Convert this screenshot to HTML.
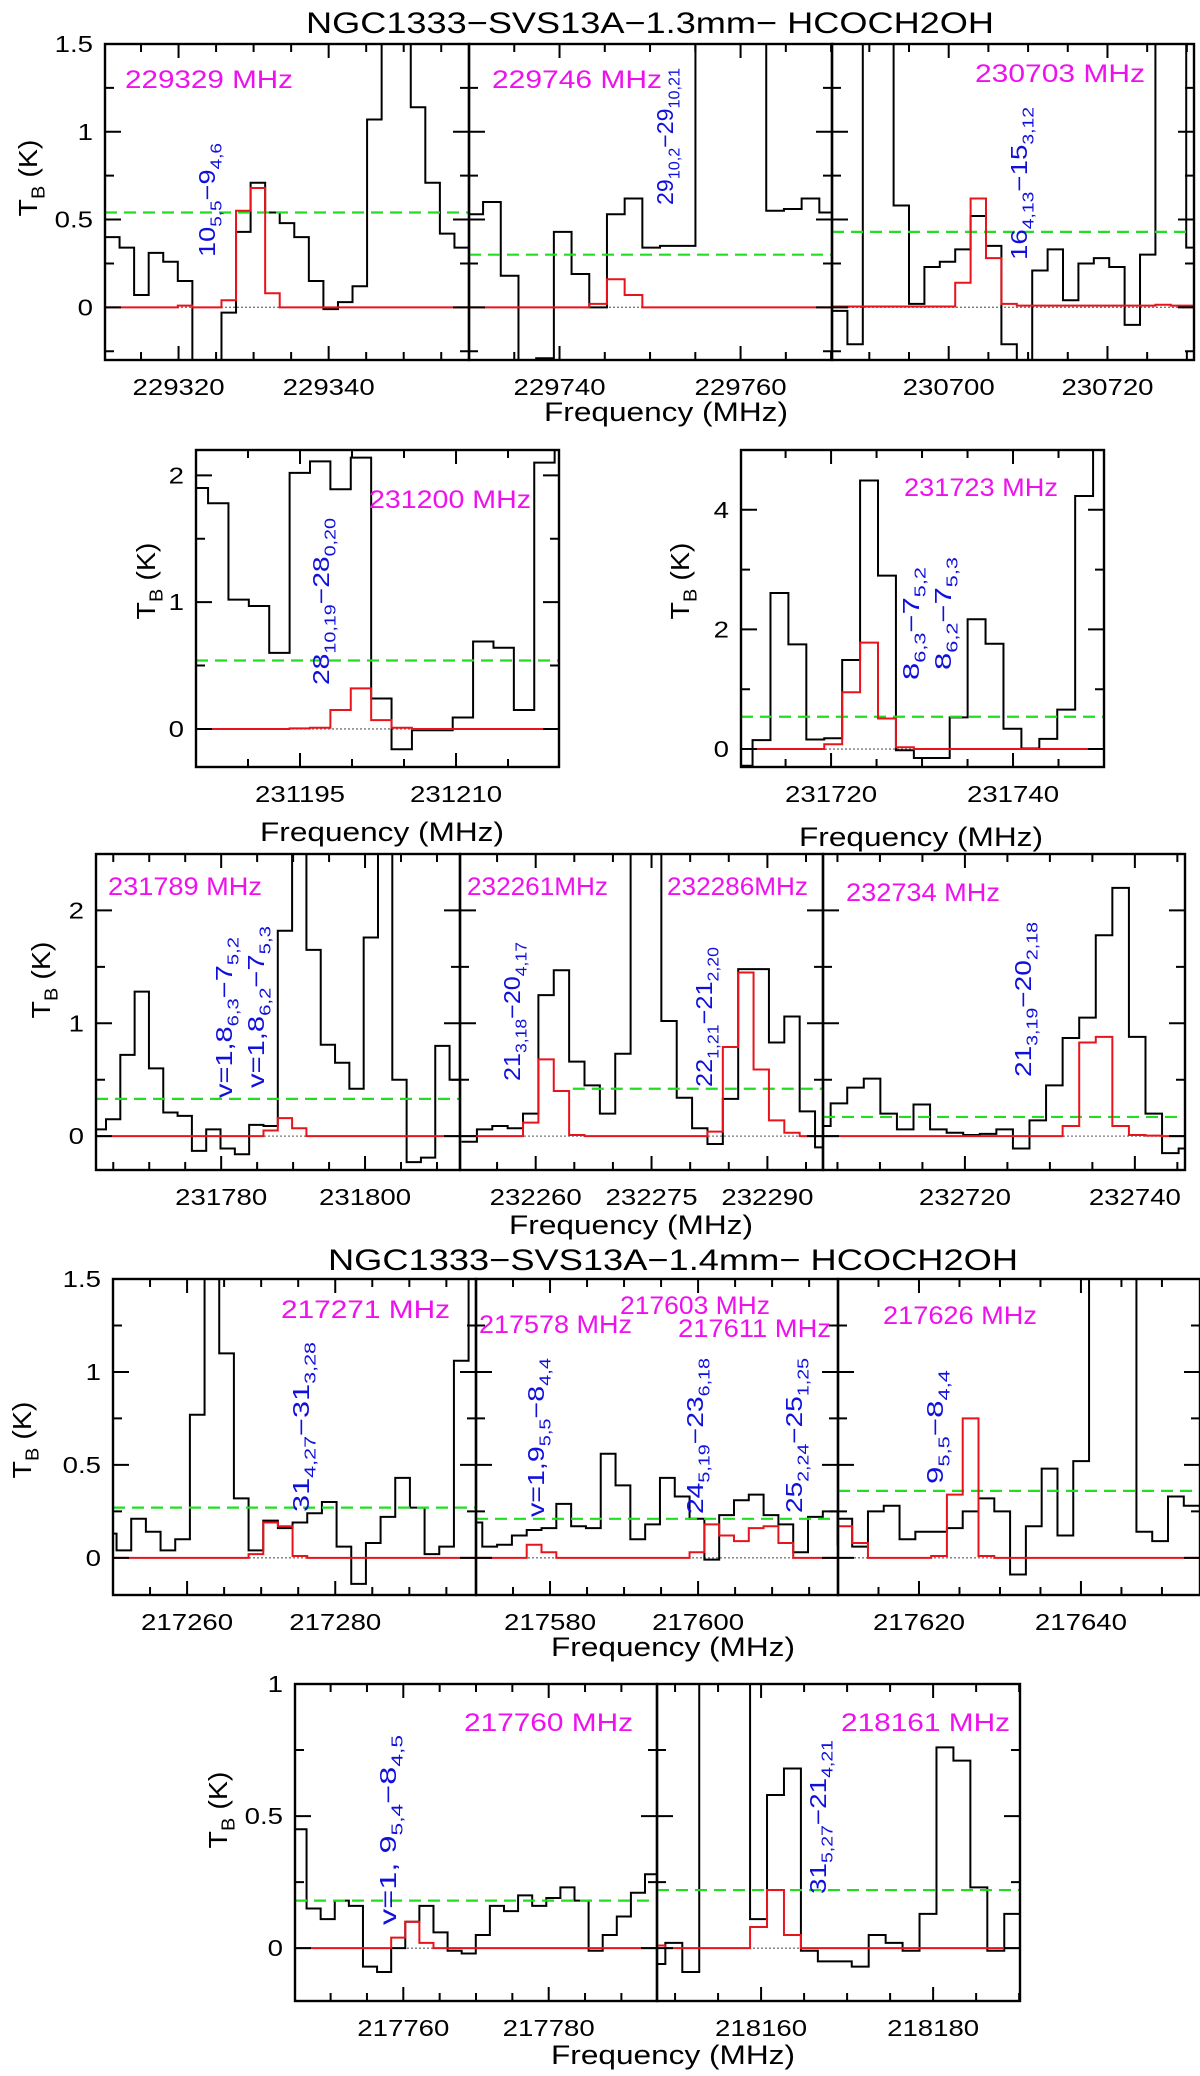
<!DOCTYPE html>
<html><head><meta charset="utf-8">
<style>
html,body{margin:0;padding:0;background:#fff;}
svg{display:block;font-family:"Liberation Sans",sans-serif;}
</style></head>
<body>
<svg id="chart" xmlns="http://www.w3.org/2000/svg" width="1200" height="2076" viewBox="0 0 1200 2076">
<rect x="0" y="0" width="1200" height="2076" fill="#fff"/>
</svg>
<script>
// ---------- data ----------
const r1p1Black=[0.40,0.34,0.07,0.31,0.26,0.15,-0.5,-0.5,-0.03,0.43,0.71,0.54,0.48,0.40,0.15,-0.01,0.03,0.12,1.07,2,2,1.14,0.71,0.42,0.34];
const r1p1Red=[0,0,0,0,0,0.01,0,0,0.04,0.55,0.68,0.08,0,0,0,0,0,0,0,0,0,0,0,0,0];
const r1p2Black=[0.53,0.60,0.18,-0.5,-0.29,0.43,0.19,0.0,0.53,0.62,0.34,0.35,0.35,2,2,2,2,0.55,0.56,0.62,0.54];
const r1p2Red=[0,0,0,0,0,0,0,0.02,0.16,0.07,0,0,0,0,0,0,0,0,0,0,0];
const r1p3Black=[-0.02,-0.21,2,2,0.58,0.02,0.23,0.26,0.33,0.52,0.35,-0.21,-0.5,0.21,0.33,0.04,0.25,0.28,0.23,-0.10,0.30,2,2,0.34];
const r1p3Red=[0.005,0.005,0.005,0.005,0.005,0.005,0.005,0.005,0.14,0.62,0.28,0.02,0.01,0.01,0.01,0.01,0.01,0.01,0.01,0.01,0.01,0.015,0.01,0.01];
const r2aBlack=[1.90,1.78,1.02,0.97,0.60,2.02,2.11,1.89,2.14,0.24,-0.16,-0.01,-0.01,0.09,0.69,0.64,0.15,2.1,2.3];
const r2aRed=[0,0,0,0,0,0.005,0.01,0.15,0.32,0.07,0.01,0,0,0,0,0,0,0,0];
const r2bBlack=[-0.28,0.15,2.61,1.75,0.16,0.18,1.49,4.49,2.90,-0.02,-0.15,-0.15,0.53,2.17,1.76,0.34,0.01,0.17,0.66,4.23,5.5];
const r2bRed=[0,0,0,0,0,0.08,0.95,1.78,0.51,0.03,0,0,0,0,0,0,0,0,0,0,0];
const r3p1Black=[0.06,0.15,0.72,1.28,0.60,0.21,0.18,-0.13,0.06,-0.11,-0.16,0.10,0.09,1.82,3,1.65,0.81,0.65,0.42,1.76,3,0.50,-0.23,-0.19,0.80,0.50];
const r3p1Red=[0,0,0,0,0,0,0,0,0,0,0,0,0.05,0.16,0.07,0,0,0,0,0,0,0,0,0,0,0];
const r3p2Black=[-0.05,0.06,0.09,0.07,0.20,1.25,1.47,0.66,0.45,0.20,0.73,3,3,1.02,0.34,0.07,-0.07,0.33,1.48,1.48,0.83,1.06,0.22,-0.10];
const r3p2Red=[0,0,0,0,0.12,0.68,0.40,0.01,0,0,0,0,0,0,0,0,0.04,0.79,1.45,0.59,0.14,0.03,0,0];
const r3p3Black=[0.09,0.29,0.43,0.51,0.20,0.06,0.28,0.06,0.03,0.01,0.02,0.06,-0.11,0.14,0.45,0.87,1.05,1.78,2.20,0.88,0.20,-0.15,-0.11];
const r3p3Red=[0,0,0,0,0,0,0,0,0,0,0,0,0,0,0,0.09,0.83,0.88,0.09,0.01,0.005,0,0];
const r4p1Black=[0.13,0.04,0.21,0.14,0.04,0.10,0.77,2,1.10,0.32,0.04,0.20,0.16,0.19,0.24,0.30,0.06,-0.14,0.08,0.22,0.43,0.27,0.02,0.06,1.06,2];
const r4p1Red=[0,0,0,0,0,0,0,0,0,0,0.02,0.19,0.17,0.01,0,0,0,0,0,0,0,0,0,0,0,0];
const r4p2Black=[0.19,0.06,0.07,0.12,0.15,0.16,0.29,0.17,0.16,0.56,0.39,0.10,0.18,0.43,0.33,0.21,-0.01,0.23,0.31,0.34,0.23,0.18,0.03,0.22,0.25,0.07];
const r4p2Red=[0,0,0,0,0.07,0.03,0,0,0,0,0,0,0,0,0,0.03,0.18,0.12,0.09,0.16,0.17,0.08,0,0,0,0];
const r4p3Black=[0.21,0.06,0.25,0.28,0.10,0.14,0.14,0.16,0.25,0.32,0.25,-0.09,0.17,0.48,0.12,0.52,2,2,2,0.14,0.09,0.33,0.28];
const r4p3Red=[0.17,0.08,0,0,0,0,0.01,0.34,0.75,0.01,0,0,0,0,0,0,0,0,0,0,0,0,0];
const r5p1Black=[0.45,0.15,0.11,0.18,0.16,-0.07,-0.09,0,0.10,0.16,0.06,-0.01,-0.02,0.05,0.16,0.14,0.20,0.16,0.19,0.23,0.18,-0.01,0.05,0.12,0.21,0.28];
const r5p1Red=[0,0,0,0,0,0,0,0.04,0.10,0.02,0,0,0,0,0,0,0,0,0,0,0,0,0,0,0,0];
const r5p2Black=[-0.06,0.02,-0.09,2,2,2,0.11,0.58,0.68,-0.01,-0.05,-0.05,-0.07,0.05,0.02,-0.01,0.13,0.76,0.71,0.23,-0.01,0.13];
const r5p2Red=[0.01,0,0,0,0,0,0.08,0.22,0.05,0,0,0,0,0,0,0,0,0,0,0,0,0];
// x tick labels (MHz)
const r1p1XTicks=[229320,229340], r1p2XTicks=[229740,229760], r1p3XTicks=[230700,230720];
const r2aXTicks=[231195,231210], r2bXTicks=[231720,231740];
const r3p1XTicks=[231780,231800], r3p2XTicks=[232260,232275,232290], r3p3XTicks=[232720,232740];
const r4p1XTicks=[217260,217280], r4p2XTicks=[217580,217600], r4p3XTicks=[217620,217640];
const r5p1XTicks=[217760,217780], r5p2XTicks=[218160,218180];
// y tick labels
const row1YTicks=[0,0.5,1,1.5], r2aYTicks=[0,1,2], r2bYTicks=[0,2,4], row3YTicks=[0,1,2], row4YTicks=[0,0.5,1,1.5], row5YTicks=[0,0.5,1];
// rms (green) levels
const greenLevels=[0.54,0.30,0.43,0.54,0.54,0.33,0.42,0.17,0.27,0.21,0.36,0.18,0.22];

// ---------- drawing ----------
const NS='http://www.w3.org/2000/svg';
const svg=document.getElementById('chart');
function mk(tag,parent){const e=document.createElementNS(NS,tag);parent.appendChild(e);return e;}

function addText(parent,x,y,str,size,color,anchor,scale,rot,name,len){
  const t=mk('text',parent);
  
  
  t.setAttribute('font-size',size);
  t.setAttribute('fill',color);
  t.setAttribute('text-anchor',anchor);
  t.setAttribute('transform','translate('+x+','+y+')'+(rot?' rotate(-90)':'')+' scale('+scale+',1)');
  const parts=str.split(/(_\{[^}]*\})/);
  let sub=false;
  parts.forEach(p=>{
    if(!p)return;
    const ts=mk('tspan',t);
    if(p.startsWith('_{')){
      ts.textContent=p.slice(2,-1);
      ts.setAttribute('font-size',size*0.7);
      ts.setAttribute('dy',size*0.28);
      sub=true;
    }else{
      ts.textContent=p;
      if(sub){ts.setAttribute('dy',-size*0.28);sub=false;}
    }
  });
  if(len){t.setAttribute('textLength',len);t.setAttribute('lengthAdjust','spacingAndGlyphs');}
  return t;
}

let clipId=0;
function panel(c){
  const g=mk('g',svg);
  
  
  const X=f=>c.x0+(f-c.fmin)/(c.fmax-c.fmin)*(c.x1-c.x0);
  const Y=v=>c.y1-(v-c.vmin)/(c.vmax-c.vmin)*(c.y1-c.y0);
  const cp=mk('clipPath',g); cp.setAttribute('id','cp'+(++clipId));
  const cr=mk('rect',cp); cr.setAttribute('x',c.x0);cr.setAttribute('y',c.y0);cr.setAttribute('width',c.x1-c.x0);cr.setAttribute('height',c.y1-c.y0);
  const d=mk('g',g); d.setAttribute('clip-path','url(#cp'+clipId+')');
  
  
  // zero line
  const z=mk('line',d);
  
  
  z.setAttribute('x1',c.x0);z.setAttribute('x2',c.x1);z.setAttribute('y1',Y(0));z.setAttribute('y2',Y(0));
  z.setAttribute('stroke','#777');z.setAttribute('stroke-width','1.3');z.setAttribute('stroke-dasharray','2,2');
  function step(vals,color,name){
    let s='M'+X(c.f0)+','+Y(vals[0])+' H'+X(c.f0+c.df);
    for(let i=1;i<vals.length;i++){s+=' V'+Y(vals[i])+' H'+X(c.f0+(i+1)*c.df);}
    const p=mk('path',d);
    
    
    p.setAttribute('d',s);p.setAttribute('fill','none');p.setAttribute('stroke',color);p.setAttribute('stroke-width','2');
  }
  step(c.black,'#000','observed-spectrum');
  // green rms
  const gl=mk('line',d);
  
  
  gl.setAttribute('x1',c.gstart?X(c.gstart):c.x0);gl.setAttribute('x2',c.x1);gl.setAttribute('y1',Y(c.green));gl.setAttribute('y2',Y(c.green));
  gl.setAttribute('stroke','#22dd22');gl.setAttribute('stroke-width','2.2');gl.setAttribute('stroke-dasharray','12,7');
  step(c.red,'#e8141c','model-spectrum');
  // frame
  const fr=mk('rect',g);
  
  
  fr.setAttribute('x',c.x0);fr.setAttribute('y',c.y0);fr.setAttribute('width',c.x1-c.x0);fr.setAttribute('height',c.y1-c.y0);
  fr.setAttribute('fill','none');fr.setAttribute('stroke','#000');fr.setAttribute('stroke-width','2.4');
  // ticks
  let tp='';
  const near=(a,b)=>Math.abs(a/b-Math.round(a/b))<1e-6;
  for(let f=Math.ceil(c.fmin/c.xminor)*c.xminor;f<=c.fmax;f+=c.xminor){
    const L=near(f,c.xmajor)?14:8, x=X(f);
    tp+='M'+x+','+c.y0+'v'+L+'M'+x+','+c.y1+'v'+(-L);
  }
  for(let v=Math.ceil(c.vmin/c.yminor-1e-9)*c.yminor;v<=c.vmax+1e-9;v+=c.yminor){
    const L=near(v+1e-12,c.ymajor)?16:9, y=Y(v);
    tp+='M'+c.x0+','+y+'h'+L+'M'+c.x1+','+y+'h'+(-L);
  }
  const tk=mk('path',g);
  
  
  tk.setAttribute('d',tp);tk.setAttribute('stroke','#000');tk.setAttribute('stroke-width','2');tk.setAttribute('fill','none');
  c.xticks.forEach(f=>addText(g,X(f),c.y1+35,String(f),23,'#000','middle',1.2,false,'x-tick-label'));
  if(c.yticks) c.yticks.forEach(v=>addText(g,c.x0-12,Y(v)+8,String(v),23,'#000','end',1.2,false,'y-tick-label'));
  if(c.ylab) addText(g,c.ylab[0],c.ylab[1],'T_{B} (K)',26,'#000','middle',1.1,true,'y-axis-title');
  (c.mag||[]).forEach(m=>addText(g,m[0],m[1],m[2],25,'#ee11ee','start',1,false,'line-frequency-label',m[3]));
  (c.blue||[]).forEach(b=>addText(g,b[0],b[1],b[2],23,'#1010dd','start',1,true,'transition-label',b[3]));
}

// titles and axis titles
addText(svg,650,33,'NGC1333−SVS13A−1.3mm−  HCOCH2OH',30,'#000','middle',1,false,'title-1.3mm',688);
addText(svg,673,1270,'NGC1333−SVS13A−1.4mm−  HCOCH2OH',30,'#000','middle',1,false,'title-1.4mm',690);
[[666,421],[382,841],[921,846],[631,1234],[673,1656],[673,2064]].forEach(p=>addText(svg,p[0],p[1],'Frequency (MHz)',27,'#000','middle',1,false,'x-axis-title',244));

const R1={y0:44,y1:360,vmin:-0.3,vmax:1.5,xminor:5,xmajor:20,yminor:0.25,ymajor:0.5,df:1.94};
panel(Object.assign({},R1,{name:'panel-229329',x0:105,x1:469,fmin:229310.2,fmax:229358.7,f0:229310.2,black:r1p1Black,red:r1p1Red,green:greenLevels[0],xticks:r1p1XTicks,yticks:row1YTicks,ylab:[37,178],
  mag:[[125,88,'229329 MHz',168]],blue:[[215,257,'10_{5,5}−9_{4,6}',114]]}));
panel(Object.assign({},R1,{name:'panel-229746',x0:469,x1:832,fmin:229730,fmax:229770.1,f0:229729.6,df:1.955,black:r1p2Black,red:r1p2Red,green:greenLevels[1],xticks:r1p2XTicks,
  mag:[[492,88,'229746 MHz',170]],blue:[[673,205,'29_{10,2}−29_{10,21}',137]]}));
panel(Object.assign({},R1,{name:'panel-230703',x0:832,x1:1194,fmin:230685.3,fmax:230730.9,f0:230685.3,black:r1p3Black,red:r1p3Red,green:greenLevels[2],xticks:r1p3XTicks,
  mag:[[975,82,'230703 MHz',170]],blue:[[1027,260,'16_{4,13}−15_{3,12}',153]]}));

panel({name:'panel-231200',x0:196,x1:559,y0:450,y1:767,vmin:-0.3,vmax:2.2,xminor:5,xmajor:15,yminor:0.5,ymajor:1,fmin:231185,fmax:231219.9,f0:231184.2,df:1.96,black:r2aBlack,red:r2aRed,green:greenLevels[3],xticks:r2aXTicks,yticks:r2aYTicks,ylab:[155,581],
  mag:[[369,508,'231200 MHz',162]],blue:[[329,685,'28_{10,19}−28_{0,20}',167]]});
panel({name:'panel-231723',x0:741,x1:1104,y0:450,y1:767,vmin:-0.3,vmax:5.0,xminor:5,xmajor:20,yminor:1,ymajor:2,fmin:231710.1,fmax:231750,f0:231709.4,df:1.97,black:r2bBlack,red:r2bRed,green:greenLevels[4],xticks:r2bXTicks,yticks:r2bYTicks,ylab:[689,581],
  mag:[[904,496,'231723 MHz',154]],blue:[[919,680,'8_{6,3}−7_{5,2}',113],[951,670,'8_{6,2}−7_{5,3}',113]]});

const R3={y0:854,y1:1170,vmin:-0.3,vmax:2.5,xminor:5,xmajor:20,yminor:0.5,ymajor:1};
panel(Object.assign({},R3,{name:'panel-231789',x0:96,x1:460,fmin:231762.6,fmax:231813.2,f0:231762.0,df:1.99,black:r3p1Black,red:r3p1Red,green:greenLevels[5],xticks:r3p1XTicks,yticks:row3YTicks,ylab:[50,980],
  mag:[[108,895,'231789 MHz',154]],blue:[[232,1098,'v=1,8_{6,3}−7_{5,2}',161],[264,1088,'v=1,8_{6,2}−7_{5,3}',162]]}));
panel(Object.assign({},R3,{name:'panel-232261-232286',x0:460,x1:823,xmajor:15,fmin:232250.2,fmax:232297.2,f0:232250.4,df:1.99,black:r3p2Black,red:r3p2Red,green:greenLevels[6],gstart:232264.8,xticks:r3p2XTicks,
  mag:[[467,895,'232261MHz',141],[667,895,'232286MHz',141]],blue:[[520,1081,'21_{3,18}−20_{4,17}',139],[712,1087,'22_{1,21}−21_{2,20}',140]]}));
panel(Object.assign({},R3,{name:'panel-232734',x0:823,x1:1185,fmin:232703.3,fmax:232745.9,f0:232702.25,df:1.95,black:r3p3Black,red:r3p3Red,green:greenLevels[7],xticks:r3p3XTicks,
  mag:[[846,901,'232734 MHz',154]],blue:[[1031,1077,'21_{3,19}−20_{2,18}',155]]}));

const R4={y0:1279,y1:1595,vmin:-0.2,vmax:1.5,xminor:5,xmajor:20,yminor:0.25,ymajor:0.5};
panel(Object.assign({},R4,{name:'panel-217271',x0:113,x1:476,fmin:217250,fmax:217299,f0:217248.5,df:1.98,black:r4p1Black,red:r4p1Red,green:greenLevels[8],xticks:r4p1XTicks,yticks:row4YTicks,ylab:[31,1440],
  mag:[[281,1318,'217271 MHz',169]],blue:[[309,1512,'31_{4,27}−31_{3,28}',170]]}));
panel(Object.assign({},R4,{name:'panel-217578-217611',x0:476,x1:838,fmin:217570,fmax:217618.9,f0:217568.85,df:2.0,black:r4p2Black,red:r4p2Red,green:greenLevels[9],xticks:r4p2XTicks,
  mag:[[479,1333,'217578 MHz',153],[620,1314,'217603 MHz',150],[678,1337,'217611 MHz',153]],
  blue:[[544,1517,'v=1,9_{5,5}−8_{4,4}',159],[703,1514,'24_{5,19}−23_{6,18}',156],[802,1513,'25_{2,24}−25_{1,25}',155]]}));
panel(Object.assign({},R4,{name:'panel-217626',x0:838,x1:1200,fmin:217610,fmax:217654.7,f0:217609.8,df:1.95,black:r4p3Black,red:r4p3Red,green:greenLevels[10],xticks:r4p3XTicks,
  mag:[[883,1324,'217626 MHz',154]],blue:[[943,1484,'9_{5,5}−8_{4,4}',114]]}));

const R5={y0:1684,y1:2001,vmin:-0.2,vmax:1.0,xminor:5,xmajor:20,yminor:0.25,ymajor:0.5};
panel(Object.assign({},R5,{name:'panel-217760',x0:295,x1:657,fmin:217745.1,fmax:217794.9,f0:217744.75,df:1.94,black:r5p1Black,red:r5p1Red,green:greenLevels[11],xticks:r5p1XTicks,yticks:row5YTicks,ylab:[227,1810],
  mag:[[464,1731,'217760 MHz',169]],blue:[[396,1925,'v=1, 9_{5,4}−8_{4,5}',190]]}));
panel(Object.assign({},R5,{name:'panel-218161',x0:657,x1:1020,fmin:218147.9,fmax:218190.1,f0:218146.9,df:1.97,black:r5p2Black,red:r5p2Red,green:greenLevels[12],xticks:r5p2XTicks,
  mag:[[841,1731,'218161 MHz',169]],blue:[[826,1894,'31_{5,27}−21_{4,21}',154]]}));
</script>
</body></html>
